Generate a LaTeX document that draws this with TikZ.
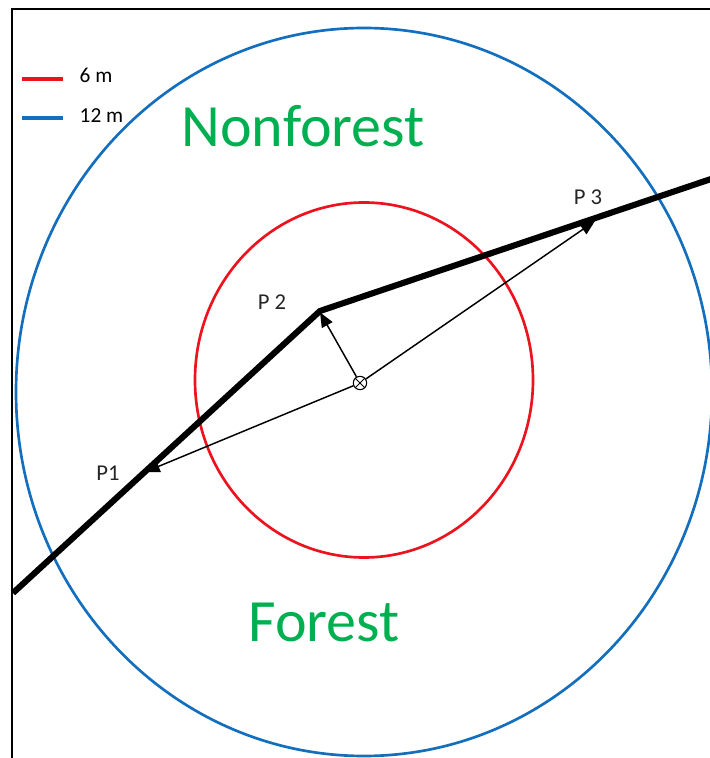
\documentclass[tikz,border=0pt]{standalone}
\usepackage{fontspec}
\setmainfont{Carlito}
\usetikzlibrary{positioning,arrows.meta}

\definecolor{ringred}{RGB}{235,20,30}
\definecolor{ringblue}{RGB}{20,110,190}
\definecolor{zonegreen}{RGB}{0,176,80}

\begin{document}
\begin{tikzpicture}[
    x=0.75pt,
    y=0.75pt,
    ring/.style={
        line width=2pt
    },
    edgeline/.style={
        line width=4.6pt,
        line join=miter
    },
    ray/.style={
        -{Triangle[length=11pt,width=9pt]},
        line width=1.1pt
    },
    plabel/.style={
        font=\fontsize{17}{20}\selectfont,
        text=black!85
    },
    keytext/.style={
        font=\fontsize{16}{19}\selectfont
    },
    keyline/.style={
        line width=3.3pt
    },
    zone/.style={
        font=\fontsize{45}{54}\selectfont,
        text=zonegreen
    },
    centre/.style={
        draw,
        circle,
        line width=0.8pt,
        minimum size=10pt,
        inner sep=0pt
    }
]
\useasboundingbox (0,0) rectangle (710,758);
\clip (0,0) rectangle (710,758);

% frame
\draw[line width=1.5pt] (12,-20) rectangle (740,749);

% plot radii
\draw[ring, ringblue] (364,366) ellipse [x radius=348, y radius=364];
\draw[ring, ringred] (364,378) ellipse [x radius=169, y radius=177.5];

% legend
\coordinate (key6a) at (22,679);
\coordinate (key6b) at (63,679);
\coordinate (key12a) at (22,640);
\coordinate (key12b) at (63,640);
\draw[keyline, ringred] (key6a) -- (key6b);
\draw[keyline, ringblue] (key12a) -- (key12b);
\node[keytext, right=9pt of key6b, yshift=3pt] (key6) {6 m};
\node[keytext, right=9pt of key12b, yshift=2pt] (key12) {12 m};

% forest edge
\coordinate (west) at (13,165);
\coordinate (p1) at (145,286);
\coordinate (p2) at (320,447);
\coordinate (p3) at (595,537);
\coordinate (east) at (714,580);
\draw[edgeline] (west) -- (p2) -- (east);

% plot centre and rays
\node[centre] (ctr) at (360,375) {};
\draw[line width=0.7pt] (ctr.45) -- (ctr.225);
\draw[line width=0.7pt] (ctr.135) -- (ctr.315);
\draw[ray] (ctr) -- (p1);
\draw[ray] (ctr) -- ([yshift=-1pt]p2);
\draw[ray] (ctr) -- (p3);

% labels
\node[plabel] (lab1) at (108,285) {P1};
\node[plabel] (lab2) at (272,456) {P 2};
\node[plabel] (lab3) at (588,561) {P 3};
\node[zone] (nonforest) at (303,632) {Nonforest};
\node[zone] (forest) at (324,136) {Forest};

\end{tikzpicture}
\end{document}
